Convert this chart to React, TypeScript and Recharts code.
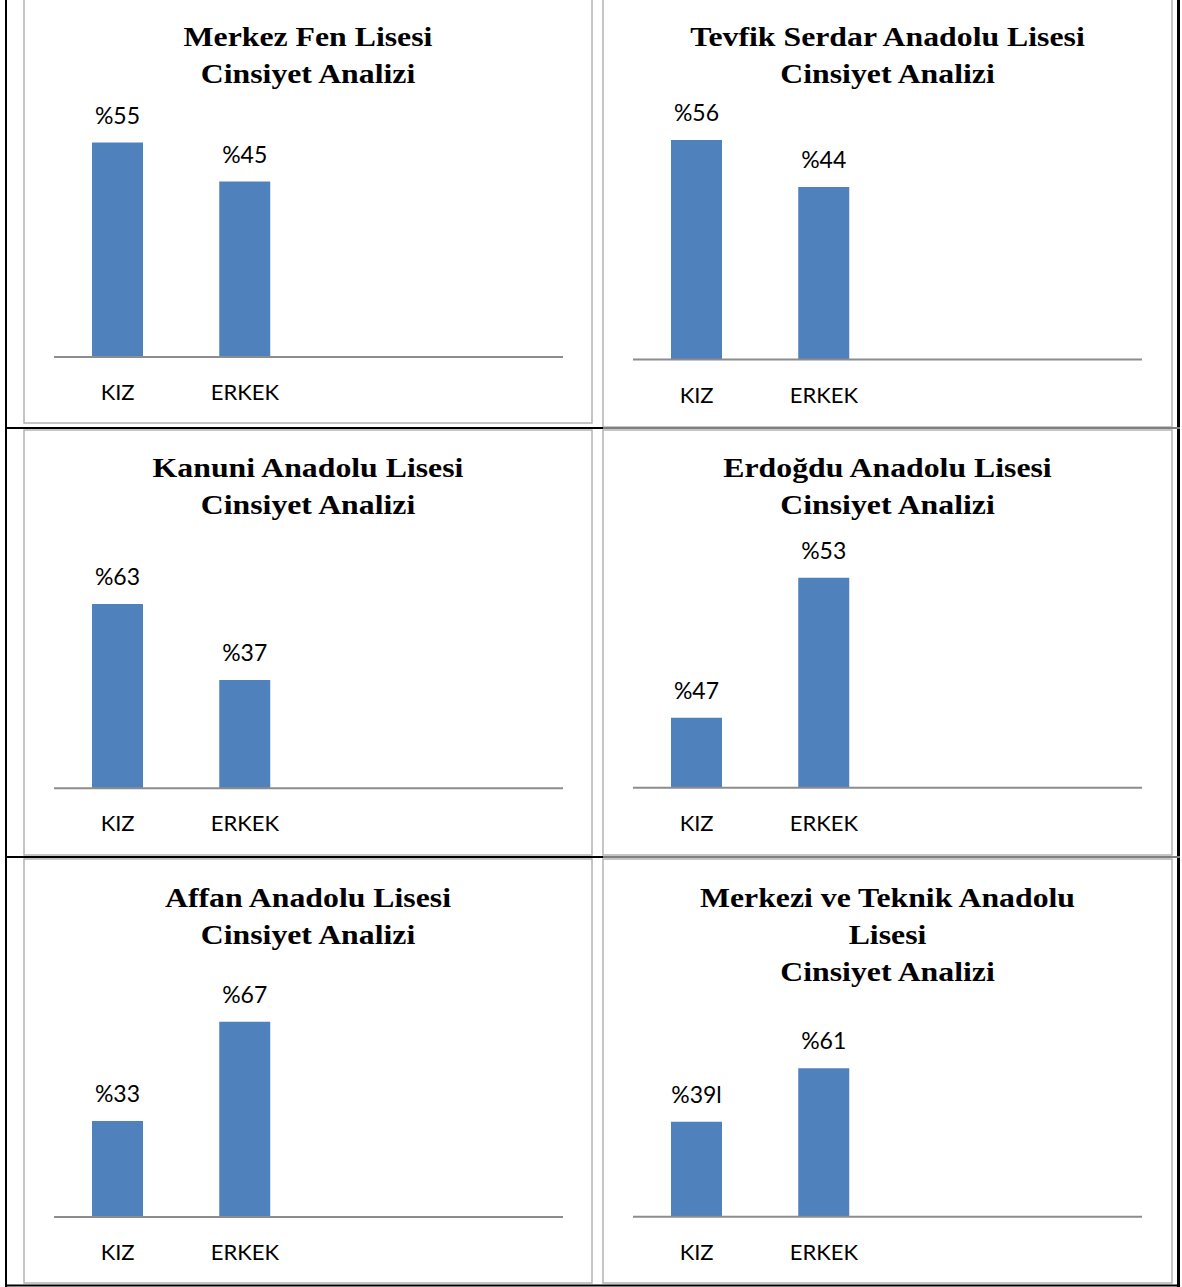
import React from 'react';
import { BarChart, Bar, XAxis, YAxis, LabelList } from 'recharts';

// ---- data ----
const categories = ['KIZ', 'ERKEK', '', ''];
const schoolTitles = [
  ['Merkez Fen Lisesi', 'Cinsiyet Analizi'],
  ['Tevfik Serdar Anadolu Lisesi', 'Cinsiyet Analizi'],
  ['Kanuni Anadolu Lisesi', 'Cinsiyet Analizi'],
  ['Erdoğdu Anadolu Lisesi', 'Cinsiyet Analizi'],
  ['Affan Anadolu Lisesi', 'Cinsiyet Analizi'],
  ['Merkezi ve Teknik Anadolu', 'Lisesi', 'Cinsiyet Analizi'],
];
const kizValues = [55, 56, 63, 47, 33, 39];
const erkekValues = [45, 44, 37, 53, 67, 61];
const kizLabels = ['%55', '%56', '%63', '%47', '%33', '%39l'];
const erkekLabels = ['%45', '%44', '%37', '%53', '%67', '%61'];
const axisMin = [0, 0, 0, 44, 0, 0];
const axisMax = [60, 60, 80, 54, 80, 70];

// ---- layout ----
const colLeft = [24, 603];
const colCenter = [308, 887.5];
const rowTop = [0, 430, 859];
const titleTop = [0, 431, 861];
const plotTops = [123, 124.3, 554.4, 554.4, 984, 1046.25];
const baselines = [357, 359.5, 788.2, 787.7, 1217, 1216.7];
const CHART_W = 568;
const CHART_H = 425;
const AXIS_H = 40;
const LABEL_FONT = 'Lato, "Open Sans", sans-serif';
const TITLE_FONT = '"Liberation Serif", "Times New Roman", serif';

const Tick = (props: any) => (
  <text
    x={props.x}
    y={props.y + 43}
    textAnchor="middle"
    fontFamily={LABEL_FONT}
    fontSize={22}
    fill="#000"
  >
    {props.payload.value}
  </text>
);

function Panel({ i }: { i: number }) {
  const col = i % 2;
  const row = Math.floor(i / 2);
  const top = rowTop[row];
  const data = categories.map((name, k) => ({
    name,
    value: k === 0 ? kizValues[i] : k === 1 ? erkekValues[i] : null,
    label: k === 0 ? kizLabels[i] : k === 1 ? erkekLabels[i] : '',
  }));
  return (
    <div style={{ position: 'absolute', left: colLeft[col], top }}>
      <BarChart
        width={CHART_W}
        height={CHART_H}
        data={data}
        margin={{
          top: plotTops[i] - top,
          bottom: top + CHART_H - baselines[i] - AXIS_H,
          left: 30,
          right: 29,
        }}
        barCategoryGap="30%"
      >
        <XAxis
          dataKey="name"
          height={AXIS_H}
          tickLine={false}
          tickSize={0}
          tickMargin={0}
          axisLine={{ stroke: '#8c8c8c', strokeWidth: 2 }}
          tick={<Tick />}
          interval={0}
        />
        <YAxis hide domain={[axisMin[i], axisMax[i]]} allowDataOverflow />
        <Bar dataKey="value" fill="#4F81BD" barSize={51} isAnimationActive={false}>
          <LabelList
            dataKey="label"
            position="top"
            offset={19}
            fill="#000"
            fontSize={23}
            fontFamily={LABEL_FONT}
          />
        </Bar>
      </BarChart>
    </div>
  );
}

export default function App() {
  const frameStroke = '#b3b3b3';
  return (
    <div style={{ position: 'absolute', left: 0, top: 0, width: 1182, height: 1287, background: '#fff', overflow: 'hidden' }}>
      <svg width={1182} height={1287} style={{ position: 'absolute', left: 0, top: 0 }}>
        {/* chart frames */}
        <rect x={24} y={-5} width={568} height={428} fill="none" stroke={frameStroke} strokeWidth={1.5} />
        <rect x={603} y={-5} width={569} height={432} fill="none" stroke={frameStroke} strokeWidth={1.5} />
        <rect x={24} y={430} width={568} height={425} fill="none" stroke={frameStroke} strokeWidth={1.5} />
        <rect x={603} y={430} width={569} height={425} fill="none" stroke={frameStroke} strokeWidth={1.5} />
        <rect x={24} y={859} width={568} height={424} fill="none" stroke={frameStroke} strokeWidth={1.5} />
        <rect x={603} y={859} width={569} height={424} fill="none" stroke={frameStroke} strokeWidth={1.5} />
        {/* table lines */}
        <line x1={6} y1={0} x2={6} y2={1287} stroke="#000" strokeWidth={2} />
        <line x1={1178.5} y1={0} x2={1178.5} y2={1287} stroke="#000" strokeWidth={3} />
        <line x1={5} y1={428} x2={603} y2={428} stroke="#000" strokeWidth={2} />
        <line x1={603} y1={428} x2={1180} y2={428} stroke="#7f7f7f" strokeWidth={2} />
        <line x1={5} y1={857} x2={603} y2={857} stroke="#000" strokeWidth={2} />
        <line x1={603} y1={857} x2={1180} y2={857} stroke="#7f7f7f" strokeWidth={2} />
        <line x1={5} y1={1285.5} x2={1180} y2={1285.5} stroke="#000" strokeWidth={2} />
        {/* titles */}
        {schoolTitles.map((lines, i) => {
          const cx = colCenter[i % 2];
          return lines.map((t, k) => (
            <text
              key={i + '-' + k}
              x={cx}
              y={titleTop[Math.floor(i / 2)] + 46 + k * 36.8}
              textAnchor="middle"
              fontFamily={TITLE_FONT}
              fontWeight="bold"
              fontSize={28}
              fill="#000"
              transform={`translate(${cx},0) scale(1.135,1) translate(${-cx},0)`}
            >
              {t}
            </text>
          ));
        })}
      </svg>
      {schoolTitles.map((_, i) => (
        <Panel key={i} i={i} />
      ))}
    </div>
  );
}
